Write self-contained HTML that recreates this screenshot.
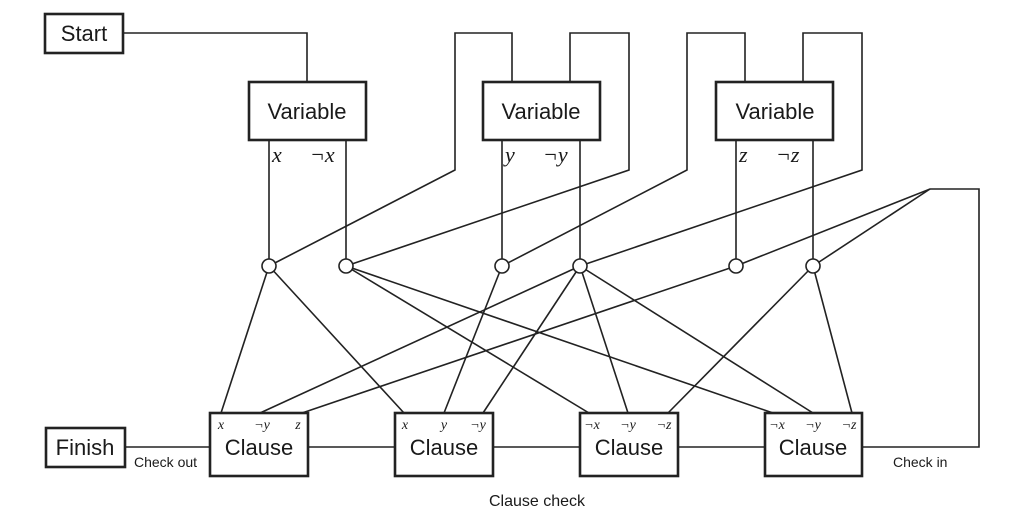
<!DOCTYPE html>
<html><head><meta charset="utf-8"><style>
html,body{margin:0;padding:0;background:#fff;}
svg{display:block;}
.s{font-family:"Liberation Sans",sans-serif;fill:#1a1a1a;}
.m{font-family:"Liberation Serif",serif;font-style:italic;fill:#1a1a1a;}
</style></head><body>
<svg width="1024" height="522" viewBox="0 0 1024 522" xmlns="http://www.w3.org/2000/svg">
<g fill="none" stroke="#222" stroke-width="1.6">
<polyline points="123,33 307,33 307,82"/>
<polyline points="512,82 512,33 455,33 455,170 269,266"/>
<polyline points="570,82 570,33 629,33 629,170 346,266"/>
<polyline points="745,82 745,33 687,33 687,170 502,266"/>
<polyline points="803,82 803,33 862,33 862,170 580,266"/>
<polyline points="862,447 979,447 979,189 930,189 736,266"/>
<line x1="930" y1="189" x2="813" y2="266"/>
<line x1="269" y1="140" x2="269" y2="259"/>
<line x1="346" y1="140" x2="346" y2="259"/>
<line x1="502" y1="140" x2="502" y2="259"/>
<line x1="580" y1="140" x2="580" y2="259"/>
<line x1="736" y1="140" x2="736" y2="259"/>
<line x1="813" y1="140" x2="813" y2="259"/>
<line x1="269" y1="266" x2="221" y2="413"/>
<line x1="580" y1="266" x2="260" y2="413"/>
<line x1="736" y1="266" x2="302" y2="413"/>
<line x1="269" y1="266" x2="404" y2="413"/>
<line x1="502" y1="266" x2="444" y2="413"/>
<line x1="580" y1="266" x2="483" y2="413"/>
<line x1="346" y1="266" x2="589" y2="413"/>
<line x1="580" y1="266" x2="628" y2="413"/>
<line x1="813" y1="266" x2="668" y2="413"/>
<line x1="346" y1="266" x2="773" y2="413"/>
<line x1="580" y1="266" x2="813" y2="413"/>
<line x1="813" y1="266" x2="852" y2="413"/>
<line x1="125" y1="447" x2="210" y2="447"/>
<line x1="308" y1="447" x2="395" y2="447"/>
<line x1="493" y1="447" x2="580" y2="447"/>
<line x1="678" y1="447" x2="765" y2="447"/>
</g>
<g fill="#fff" stroke="#222" stroke-width="1.6">
<circle cx="269" cy="266" r="7"/><circle cx="346" cy="266" r="7"/>
<circle cx="502" cy="266" r="7"/><circle cx="580" cy="266" r="7"/>
<circle cx="736" cy="266" r="7"/><circle cx="813" cy="266" r="7"/>
</g>
<g fill="#fff" stroke="#222" stroke-width="2.6">
<rect x="45" y="14" width="78" height="39"/>
<rect x="249" y="82" width="117" height="58"/>
<rect x="483" y="82" width="117" height="58"/>
<rect x="716" y="82" width="117" height="58"/>
<rect x="46" y="428" width="79" height="39"/>
<rect x="210" y="413" width="98" height="63"/>
<rect x="395" y="413" width="98" height="63"/>
<rect x="580" y="413" width="98" height="63"/>
<rect x="765" y="413" width="97" height="63"/>
</g>
<g class="s" text-anchor="middle" font-size="22">
<text x="84" y="41">Start</text>
<text x="307" y="119">Variable</text>
<text x="541" y="119">Variable</text>
<text x="775" y="119">Variable</text>
<text x="85" y="455">Finish</text>
<text x="259" y="455">Clause</text>
<text x="444" y="455">Clause</text>
<text x="629" y="455">Clause</text>
<text x="813" y="455">Clause</text>
</g>
<g class="s" font-size="14">
<text x="134" y="467">Check out</text>
<text x="893" y="467">Check in</text>
<text x="537" y="506" text-anchor="middle" font-size="16">Clause check</text>
</g>
<g class="m" font-size="22">
<text x="272" y="162">x</text><text x="310" y="162">¬x</text>
<text x="505" y="162">y</text><text x="543" y="162">¬y</text>
<text x="739" y="162">z</text><text x="776" y="162">¬z</text>
</g>
<g class="m" font-size="14" text-anchor="middle">
<text x="221" y="429">x</text><text x="262" y="429">¬y</text><text x="298" y="429">z</text>
<text x="405" y="429">x</text><text x="444" y="429">y</text><text x="478" y="429">¬y</text>
<text x="592" y="429">¬x</text><text x="628" y="429">¬y</text><text x="664" y="429">¬z</text>
<text x="777" y="429">¬x</text><text x="813" y="429">¬y</text><text x="849" y="429">¬z</text>
</g>
</svg>
</body></html>
